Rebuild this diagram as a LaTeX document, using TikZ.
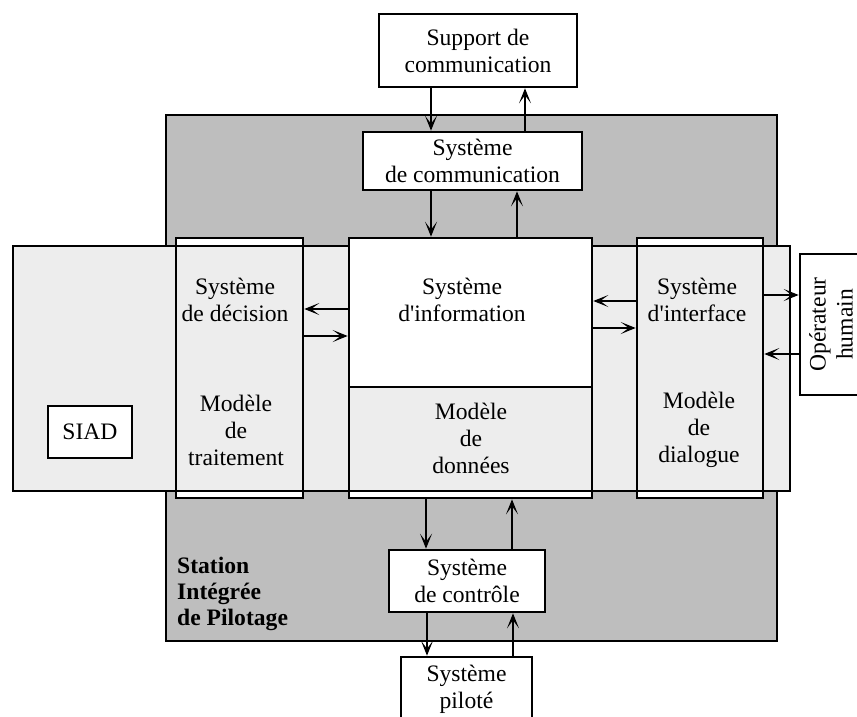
\documentclass[tikz,border=0pt]{standalone}
\usepackage{fontspec}
\setmainfont{Liberation Serif}
\usetikzlibrary{arrows.meta}
\definecolor{darkfill}{HTML}{BEBEBE}
\definecolor{lightfill}{HTML}{EDEDED}
\begin{document}
\begin{tikzpicture}[x=1pt,y=-1pt,
  box/.style={draw, line width=2.6pt, inner sep=0pt, align=center,
    font=\fontsize{23.6}{27}\selectfont},
  lbl/.style={align=center, font=\fontsize{23.6}{27}\selectfont, inner sep=0pt},
  arr/.style={line width=2.2pt, -{Stealth[length=15pt,width=12pt,inset=8pt]}},
]
\useasboundingbox (0,0) rectangle (857,716);
\clip (0,0) rectangle (857,716);
% station background
\node[box, fill=darkfill, minimum width=611pt, minimum height=526pt] (sip) at (471.5,378) {};
% white column backgrounds
\node[box, fill=white, minimum width=127pt, minimum height=260pt] (decbg) at (239.5,368) {};
\node[box, fill=white, minimum width=243pt, minimum height=260pt] (infobg) at (470.5,368) {};
\node[box, fill=white, minimum width=126pt, minimum height=260pt] (intbg) at (700,368) {};
% light band
\node[box, fill=lightfill, minimum width=777pt, minimum height=245pt] (band) at (401.5,368.5) {};
% information system top
\node[box, fill=white, minimum width=243pt, minimum height=149pt] (infotop) at (470.5,312.5) {};
% column outlines
\node[box, minimum width=127pt, minimum height=260pt] (dec) at (239.5,368) {};
\node[box, minimum width=243pt, minimum height=260pt] (info) at (470.5,368) {};
\node[box, minimum width=126pt, minimum height=260pt] (int) at (700,368) {};
% other boxes
\node[box, fill=white, minimum width=198pt, minimum height=73pt] (sup) at (478,50.5) {Support de\\communication};
\node[box, fill=white, minimum width=219pt, minimum height=58pt] (com) at (472.5,161) {Système\\de communication};
\node[box, fill=white, minimum width=84pt, minimum height=52pt] (siad) at (90,432) {SIAD};
\node[box, fill=white, minimum width=156pt, minimum height=62pt] (ctrl) at (467,581) {Système\\de contrôle};
\node[box, fill=white, minimum width=131pt, minimum height=100pt] (pilbox) at (466.5,707) {};
\node[lbl] (pil) at (466.5,689) {Système\\piloté};
\node[box, fill=white, rotate=90, minimum width=141pt, minimum height=62pt] (op) at (831,324.5) {Opérateur\\humain};
% texts
\node[lbl] (dect) at (235,300) {Système\\de décision};
\node[lbl] (decm) at (236,430) {Modèle\\de\\traitement};
\node[lbl] (infot) at (462,300) {Système\\d\textquotesingle information};
\node[lbl] (infom) at (471,438) {Modèle\\de\\données};
\node[lbl] (intt) at (697,300) {Système\\d\textquotesingle interface};
\node[lbl] (intm) at (699,430) {Modèle\\de\\dialogue};
\node[lbl, anchor=west, align=left, font=\fontsize{23.6}{26}\bfseries] (sipt) at (177,594) {Station\\Intégrée\\de Pilotage};
% connector guides
\coordinate (xa) at (431,0);
\coordinate (xb) at (525,0);
\coordinate (xc) at (517,0);
\coordinate (xd) at (426,0);
\coordinate (xe) at (512,0);
\coordinate (xf) at (427,0);
\coordinate (xg) at (513,0);
\coordinate (ya) at (0,309);
\coordinate (yb) at (0,336);
\coordinate (yc) at (0,301);
\coordinate (yd) at (0,328);
\coordinate (ye) at (0,295);
\coordinate (yf) at (0,354);
% connectors
\draw[arr] (sup.south -| xa) -- (com.north -| xa);
\draw[arr] (com.north -| xb) -- (sup.south -| xb);
\draw[arr] (com.south -| xa) -- (info.north -| xa);
\draw[arr] (info.north -| xc) -- (com.south -| xc);
\draw[arr] (info.west |- ya) -- (dec.east |- ya);
\draw[arr] (dec.east |- yb) -- (info.west |- yb);
\draw[arr] (int.west |- yc) -- (info.east |- yc);
\draw[arr] (info.east |- yd) -- (int.west |- yd);
\draw[arr] (int.east |- ye) -- (op.north |- ye);
\draw[arr] (op.north |- yf) -- (int.east |- yf);
\draw[arr] (info.south -| xd) -- (ctrl.north -| xd);
\draw[arr] (ctrl.north -| xe) -- (info.south -| xe);
\draw[arr] (ctrl.south -| xf) -- (pilbox.north -| xf);
\draw[arr] (pilbox.north -| xg) -- (ctrl.south -| xg);
\end{tikzpicture}
\end{document}
